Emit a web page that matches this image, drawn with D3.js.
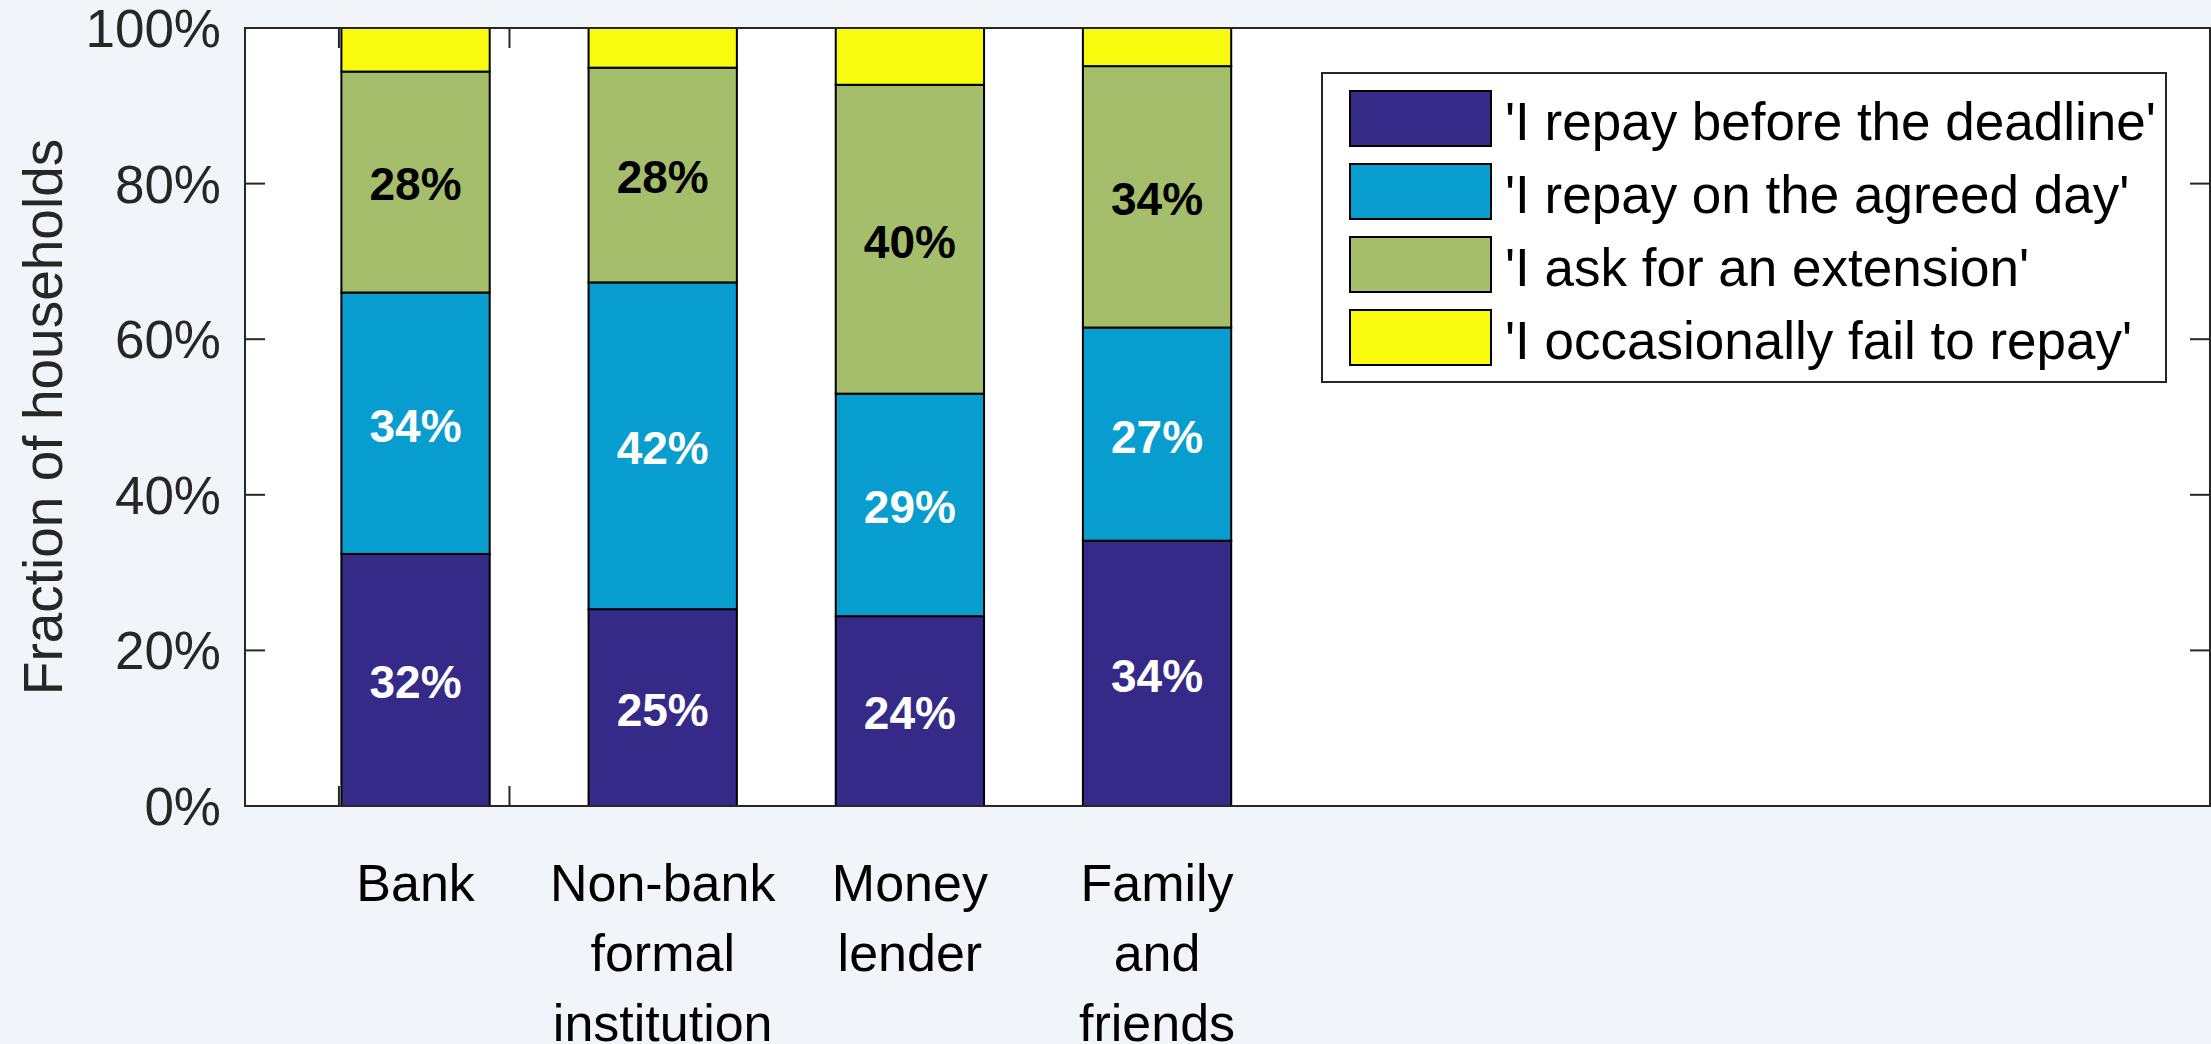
<!DOCTYPE html>
<html>
<head>
<meta charset="utf-8">
<script src="https://cdn.jsdelivr.net/npm/d3@7"></script>
<style>
  html, body { margin: 0; padding: 0; background: #f1f5f9; }
  svg { display: block; }
  text { font-family: "Liberation Sans", Arial, Helvetica, sans-serif; }
</style>
</head>
<body>
<svg id="chart" width="2211" height="1044"></svg>
<script>
// Lender types (multi-line labels under each bar)
const categories = [
  ["Bank"],
  ["Non-bank", "formal", "institution"],
  ["Money", "lender"],
  ["Family", "and", "friends"]
];

// Repayment behaviour shares, % of households
const seriesNames = [
  "'I repay before the deadline'",
  "'I repay on the agreed day'",
  "'I ask for an extension'",
  "'I occasionally fail to repay'"
];
const repayBefore    = [32.4, 25.3, 24.4, 34.1];
const repayOnDay     = [33.6, 42.0, 28.6, 27.4];
const askExtension   = [28.4, 27.6, 39.7, 33.6];
const failToRepay    = [5.6, 5.1, 7.3, 4.9];

const yTicks = [0, 20, 40, 60, 80, 100];
const xTicks = [0.69, 1.38];

const seriesColors = ["#352a87", "#079dcf", "#a5be6b", "#f9fb0e"];
const labelColors  = ["#ffffff", "#ffffff", "#000000", null];

const allSeries = [repayBefore, repayOnDay, askExtension, failToRepay];

const svg = d3.select("#chart");
const plot = { left: 245, right: 2210, top: 28, bottom: 806 };
const axisColor = "#262626";

const x = d3.scaleLinear().domain([0.31, 8.26]).range([plot.left, plot.right]);
const y = d3.scaleLinear().domain([0, 100]).range([plot.bottom, plot.top]);
const barWidth = 0.6;

// axes background
svg.append("rect")
  .attr("x", plot.left).attr("y", plot.top)
  .attr("width", plot.right - plot.left).attr("height", plot.bottom - plot.top)
  .attr("fill", "#ffffff");

// x tick marks (bottom and top)
const tickLen = 20;
const xt = svg.append("g").attr("stroke", axisColor).attr("stroke-width", 2);
xTicks.forEach(v => {
  xt.append("line").attr("x1", x(v)).attr("x2", x(v))
    .attr("y1", plot.bottom).attr("y2", plot.bottom - tickLen);
  xt.append("line").attr("x1", x(v)).attr("x2", x(v))
    .attr("y1", plot.top).attr("y2", plot.top + tickLen);
});

// stacked bars
const stacked = categories.map((c, i) => {
  let base = 0;
  return allSeries.map((s, k) => {
    const seg = { cat: i, k, y0: base, y1: base + s[i], v: s[i] };
    base += s[i];
    return seg;
  });
}).flat();

svg.append("g").selectAll("rect")
  .data(stacked)
  .join("rect")
  .attr("x", d => x(d.cat + 1 - barWidth / 2))
  .attr("width", d => x(d.cat + 1 + barWidth / 2) - x(d.cat + 1 - barWidth / 2))
  .attr("y", d => y(d.y1))
  .attr("height", d => y(d.y0) - y(d.y1))
  .attr("fill", d => seriesColors[d.k])
  .attr("stroke", "#000")
  .attr("stroke-width", 2);

// value labels inside segments
svg.append("g").selectAll("text")
  .data(stacked.filter(d => labelColors[d.k]))
  .join("text")
  .attr("x", d => x(d.cat + 1))
  .attr("y", d => y((d.y0 + d.y1) / 2))
  .attr("dy", "0.4em")
  .attr("text-anchor", "middle")
  .attr("font-size", 46)
  .attr("font-weight", "bold")
  .attr("fill", d => labelColors[d.k])
  .text(d => Math.round(d.v) + "%");

// axes box
const ax = svg.append("g").attr("stroke", axisColor).attr("stroke-width", 2).attr("fill", "none");
ax.append("rect")
  .attr("x", plot.left).attr("y", plot.top)
  .attr("width", plot.right - plot.left).attr("height", plot.bottom - plot.top);

// y ticks on left and right
yTicks.forEach(v => {
  ax.append("line").attr("x1", plot.left).attr("x2", plot.left + tickLen)
    .attr("y1", y(v)).attr("y2", y(v));
  ax.append("line").attr("x1", plot.right).attr("x2", plot.right - tickLen)
    .attr("y1", y(v)).attr("y2", y(v));
});

// y tick labels
svg.append("g").selectAll("text")
  .data(yTicks)
  .join("text")
  .attr("x", plot.left - 24)
  .attr("y", d => y(d))
  .attr("dy", "0.36em")
  .attr("text-anchor", "end")
  .attr("font-size", 53)
  .attr("fill", axisColor)
  .text(d => d + "%");

// y axis title
svg.append("text")
  .attr("transform", `translate(62, ${(plot.top + plot.bottom) / 2}) rotate(-90)`)
  .attr("text-anchor", "middle")
  .attr("font-size", 55)
  .attr("fill", axisColor)
  .text("Fraction of households");

// category labels below the axis
const catG = svg.append("g");
categories.forEach((lines, i) => {
  const t = catG.append("text")
    .attr("text-anchor", "middle")
    .attr("font-size", 52)
    .attr("fill", "#000");
  lines.forEach((ln, j) => {
    t.append("tspan")
      .attr("x", x(i + 1))
      .attr("y", 901 + j * 70)
      .text(ln);
  });
});

// legend
const lg = svg.append("g");
lg.append("rect")
  .attr("x", 1322).attr("y", 73).attr("width", 844).attr("height", 309)
  .attr("fill", "#ffffff").attr("stroke", axisColor).attr("stroke-width", 2);
seriesNames.forEach((name, k) => {
  const top = 91 + k * 73;
  lg.append("rect")
    .attr("x", 1350).attr("y", top).attr("width", 141).attr("height", 55)
    .attr("fill", seriesColors[k]).attr("stroke", "#000").attr("stroke-width", 2);
  lg.append("text")
    .attr("x", 1505).attr("y", top + 49)
    .attr("font-size", 53)
    .attr("fill", "#000")
    .text(name);
});
</script>
</body>
</html>
